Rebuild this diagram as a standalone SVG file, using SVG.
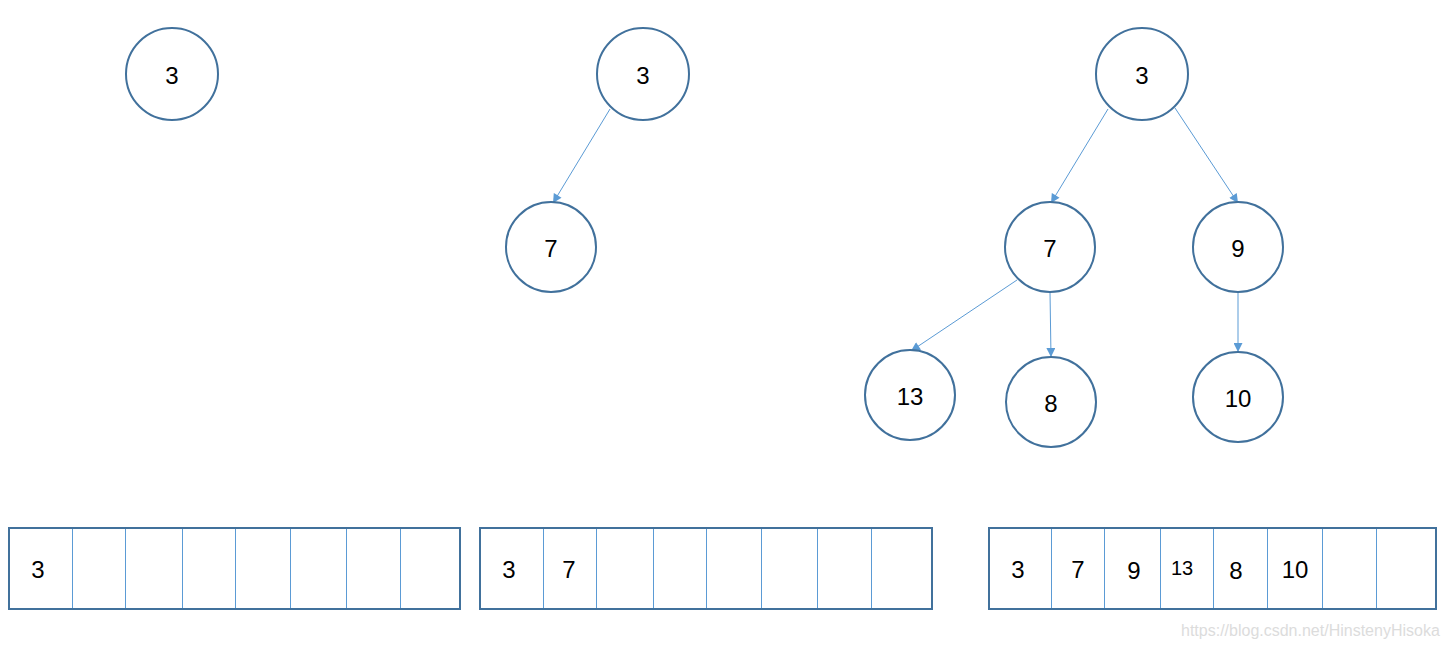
<svg xmlns="http://www.w3.org/2000/svg" width="1448" height="648" viewBox="0 0 1448 648">
<style>
.node circle{fill:#fff;stroke:#41719C;stroke-width:2}
.t{font-family:"Liberation Sans",Arial,sans-serif;font-size:24px;fill:#000;text-anchor:middle;dominant-baseline:central}
.s{font-size:20px}
.edge{stroke:#5B9BD5;stroke-width:1;fill:none;marker-end:url(#arr)}
.outer{fill:#fff;stroke:#41719C;stroke-width:2}
.div{stroke:#5B9BD5;stroke-width:1}
.wm{font-family:"Liberation Sans",Arial,sans-serif;font-size:16px;fill:#dcdcdc}
</style>
<defs>
<marker id="arr" viewBox="0 0 10 10" refX="10" refY="5" markerWidth="10" markerHeight="9" markerUnits="userSpaceOnUse" orient="auto">
<path d="M0,0 L10,5 L0,10 z" fill="#5B9BD5"/>
</marker>
</defs>
<rect width="1448" height="648" fill="#fff"/>
<g id="connectors">
<line class="edge" x1="610" y1="109" x2="553" y2="203"/>
<line class="edge" x1="1108" y1="109" x2="1051" y2="203"/>
<line class="edge" x1="1175" y1="108" x2="1238" y2="203"/>
<line class="edge" x1="1017" y1="280" x2="911" y2="351"/>
<line class="edge" x1="1050" y1="292" x2="1051" y2="357"/>
<line class="edge" x1="1238" y1="292" x2="1238" y2="352"/>
</g>
<g id="n1_3" class="node"><circle cx="172" cy="74" r="46"/><text class="t" x="172" y="75">3</text></g>
<g id="n2_3" class="node"><circle cx="643" cy="74" r="46"/><text class="t" x="643" y="75">3</text></g>
<g id="n2_7" class="node"><circle cx="551" cy="247" r="45"/><text class="t" x="551" y="248">7</text></g>
<g id="n3_3" class="node"><circle cx="1142" cy="74" r="46"/><text class="t" x="1142" y="75">3</text></g>
<g id="n3_7" class="node"><circle cx="1050" cy="247" r="45"/><text class="t" x="1050" y="248">7</text></g>
<g id="n3_9" class="node"><circle cx="1238" cy="247" r="45"/><text class="t" x="1238" y="248">9</text></g>
<g id="n3_13" class="node"><circle cx="910" cy="395" r="45"/><text class="t" x="910" y="396">13</text></g>
<g id="n3_8" class="node"><circle cx="1051" cy="402" r="45"/><text class="t" x="1051" y="403">8</text></g>
<g id="n3_10" class="node"><circle cx="1238" cy="397" r="45"/><text class="t" x="1238" y="398">10</text></g>
<g id="array1">
<rect class="outer" x="9" y="528" width="451" height="81"/>
<line class="div" x1="72.5" y1="529" x2="72.5" y2="608"/>
<line class="div" x1="125.5" y1="529" x2="125.5" y2="608"/>
<line class="div" x1="182.5" y1="529" x2="182.5" y2="608"/>
<line class="div" x1="235.5" y1="529" x2="235.5" y2="608"/>
<line class="div" x1="290.5" y1="529" x2="290.5" y2="608"/>
<line class="div" x1="346.5" y1="529" x2="346.5" y2="608"/>
<line class="div" x1="400.5" y1="529" x2="400.5" y2="608"/>
<text class="t" x="38" y="569">3</text>
</g>
<g id="array2">
<rect class="outer" x="480" y="528" width="452" height="81"/>
<line class="div" x1="543.5" y1="529" x2="543.5" y2="608"/>
<line class="div" x1="596.5" y1="529" x2="596.5" y2="608"/>
<line class="div" x1="653.5" y1="529" x2="653.5" y2="608"/>
<line class="div" x1="706.5" y1="529" x2="706.5" y2="608"/>
<line class="div" x1="761.5" y1="529" x2="761.5" y2="608"/>
<line class="div" x1="817.5" y1="529" x2="817.5" y2="608"/>
<line class="div" x1="871.5" y1="529" x2="871.5" y2="608"/>
<text class="t" x="509" y="569">3</text>
<text class="t" x="569" y="569">7</text>
</g>
<g id="array3">
<rect class="outer" x="989" y="528" width="447" height="81"/>
<line class="div" x1="1051.5" y1="529" x2="1051.5" y2="608"/>
<line class="div" x1="1104.5" y1="529" x2="1104.5" y2="608"/>
<line class="div" x1="1160.5" y1="529" x2="1160.5" y2="608"/>
<line class="div" x1="1213.5" y1="529" x2="1213.5" y2="608"/>
<line class="div" x1="1267.5" y1="529" x2="1267.5" y2="608"/>
<line class="div" x1="1322.5" y1="529" x2="1322.5" y2="608"/>
<line class="div" x1="1376.5" y1="529" x2="1376.5" y2="608"/>
<text class="t" x="1018" y="569">3</text>
<text class="t" x="1078" y="569">7</text>
<text class="t" x="1134" y="570">9</text>
<text class="t s" x="1182" y="568">13</text>
<text class="t" x="1236" y="570">8</text>
<text class="t" x="1295" y="569">10</text>
</g>
<text class="wm" x="1181" y="636">https://blog.csdn.net/HinstenyHisoka</text>
</svg>
